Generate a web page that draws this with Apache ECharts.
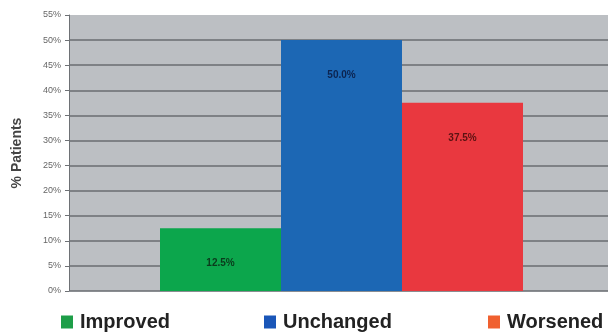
<!DOCTYPE html>
<html>
<head>
<meta charset="utf-8">
<script src="https://cdn.jsdelivr.net/npm/echarts@6/dist/echarts.min.js"></script>
<style>
  html, body { margin: 0; padding: 0; background: #fff; overflow: hidden; }
  /* the plot runs past the right edge of the picture */
  #chart { width: 614px; height: 336px; }
</style>
</head>
<body>
<div id="chart"></div>
<script>
// data
var categories = ['Improved', 'Unchanged', 'Worsened'];
var values = [12.5, 50.0, 37.5];
var barColors = ['#0ca64c', '#1c67b4', '#e9383f'];
var legendColors = ['#1d9e48', '#1a56b8', '#f0602f'];
var labelColors = ['#0b3a1c', '#0c2450', '#5c1212'];
var yMin = 0, yMax = 55, yStep = 5;

var chart = echarts.init(document.getElementById('chart'));

var series = [];
var legends = [];
var legendLeft = [61, 264, 488];
for (var i = 0; i < categories.length; i++) {
	series.push({
		name : categories[i],
		type : 'bar',
		data : [ values[i] ],
		barWidth : 121,
		barGap : '0%',
		itemStyle : { color : barColors[i] },
		label : {
			show : true,
			position : 'insideTop',
			distance : 30,
			formatter : function(p) { return p.value.toFixed(1) + '%'; },
			fontFamily : 'Liberation Sans',
			fontWeight : 'bold',
			fontSize : 10,
			color : labelColors[i]
		}
	});
	legends.push({
		left : legendLeft[i],
		top : 312,
		padding : 0,
		icon : 'rect',
		itemWidth : 12,
		itemHeight : 13,
		itemGap : 0,
		selectedMode : false,
		data : [ { name : categories[i], itemStyle : { color : legendColors[i] } } ],
		textStyle : {
			fontFamily : 'Liberation Sans',
			fontWeight : 'bold',
			fontSize : 20,
			color : '#222',
			padding : [0, 0, 0, 2]
		}
	});
}

var option = {
	animation : false,
	grid : {
		left : 69, right : 0, top : 15, bottom : 45,
		show : true,
		backgroundColor : '#bcbfc3',
		borderWidth : 0
	},
	legend : legends,
	xAxis : {
		type : 'category',
		data : [ '' ],
		axisLabel : { show : false },
		axisTick : { show : false },
		axisLine : { lineStyle : { color : '#8a8d91', width : 1 } }
	},
	yAxis : {
		type : 'value',
		min : yMin, max : yMax, interval : yStep,
		name : '% Patients',
		nameLocation : 'middle',
		nameGap : 45,
		nameTextStyle : {
			fontFamily : 'Liberation Sans',
			fontWeight : 'bold',
			fontSize : 14,
			color : '#444'
		},
		axisLine : { show : true, lineStyle : { color : '#6e7175', width : 1 } },
		axisTick : { show : true, length : 4, lineStyle : { color : '#6e7175' } },
		axisLabel : {
			formatter : '{value}%',
			margin : 8,
			fontFamily : 'Liberation Sans',
			fontSize : 9,
			color : '#666'
		},
		splitLine : {
			show : true,
			showMaxLine : false,
			lineStyle : { color : '#7e8185', width : 2 }
		}
	},
	series : series
};
chart.setOption(option);
</script>
</body>
</html>
